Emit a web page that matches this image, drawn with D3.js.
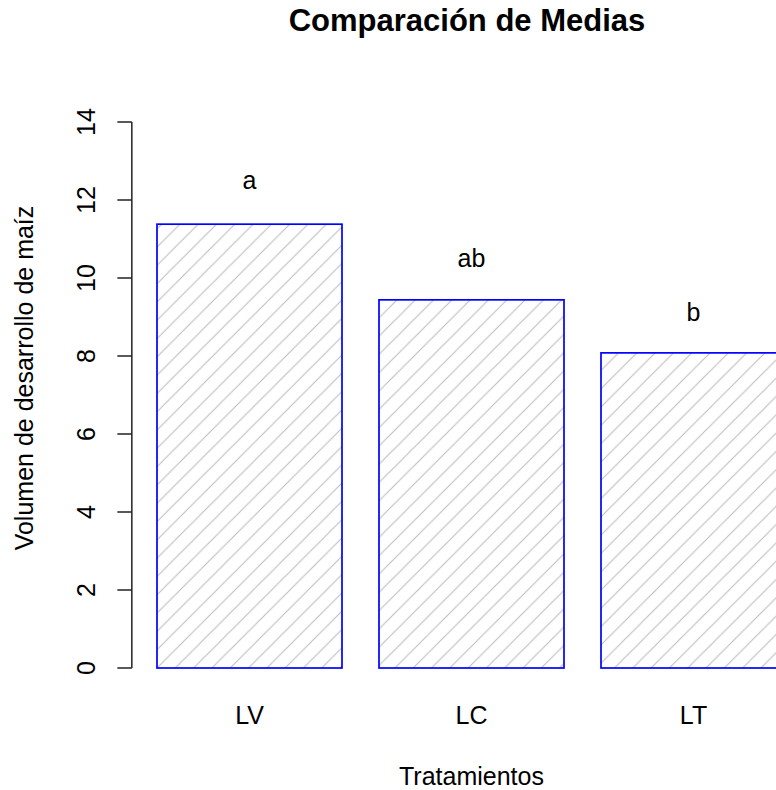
<!DOCTYPE html>
<html>
<head>
<meta charset="utf-8">
<script src="https://cdn.jsdelivr.net/npm/d3@7"></script>
<style>
  html, body { margin: 0; padding: 0; background: #ffffff; }
  svg { display: block; }
  text { font-family: "Liberation Sans", Arial, sans-serif; fill: #000; }
</style>
</head>
<body>
<div id="chart"></div>
<script>
// ---- data ----
const categories = ["LV", "LC", "LT"];
const means = [11.38, 9.44, 8.08];
const groupLetters = ["a", "ab", "b"];
const letterY = [12.28, 10.28, 8.9];
const yTicks = [0, 2, 4, 6, 8, 10, 12, 14];
const titleText = "Comparación de Medias";
const xLabel = "Tratamientos";
const yLabel = "Volumen de desarrollo de maíz";

// ---- layout ----
const W = 776, H = 790;
const svg = d3.select("#chart").append("svg")
  .attr("width", W).attr("height", H);
svg.append("rect").attr("width", W).attr("height", H).attr("fill", "#fff");

// bar-unit scale (R barplot units) -> pixels
const u = d3.scaleLinear().domain([0, 1]).range([120, 305]);
const x = d3.scaleBand().domain(categories)
  .range([u(0.1), u(3.7)])
  .paddingInner(1 / 6).paddingOuter(1 / 12);
const y = d3.scaleLinear().domain([0, 14]).range([668, 122]);
const plotLeft = u(0.064), plotRight = u(3.736);

// hatch pattern
const s = 18.3;
const defs = svg.append("defs");
const pat = defs.append("pattern")
  .attr("id", "hatch").attr("patternUnits", "userSpaceOnUse")
  .attr("width", s).attr("height", s)
  .attr("x", u(0.2)).attr("y", y(0));
pat.append("path")
  .attr("d", `M0,${s} L${s},0 M${-s/2},${s/2} L${s/2},${-s/2} M${s/2},${s*1.5} L${s*1.5},${s/2}`)
  .attr("stroke", "#bdbdbd").attr("stroke-width", 1.1).attr("fill", "none");

// bars
svg.append("g").selectAll("rect").data(categories).join("rect")
  .attr("x", d => x(d))
  .attr("y", (d, i) => y(means[i]))
  .attr("width", x.bandwidth())
  .attr("height", (d, i) => y(0) - y(means[i]))
  .attr("fill", "url(#hatch)")
  .attr("stroke", "#0000ff")
  .attr("stroke-width", 1.7);

// group letters
svg.append("g").selectAll("text").data(categories).join("text")
  .attr("x", d => x(d) + x.bandwidth() / 2)
  .attr("y", (d, i) => y(letterY[i]))
  .attr("text-anchor", "middle")
  .attr("font-size", 25)
  .text((d, i) => groupLetters[i]);

// y axis (R style)
const yAxis = svg.append("g");
yAxis.append("line")
  .attr("x1", plotLeft).attr("x2", plotLeft)
  .attr("y1", y(yTicks[0])).attr("y2", y(yTicks[yTicks.length - 1]))
  .attr("stroke", "#222").attr("stroke-width", 1.5);
yAxis.selectAll("line.tick").data(yTicks).join("line")
  .attr("class", "tick")
  .attr("x1", plotLeft - 14.5).attr("x2", plotLeft)
  .attr("y1", d => y(d)).attr("y2", d => y(d))
  .attr("stroke", "#222").attr("stroke-width", 1.5);
yAxis.selectAll("text").data(yTicks).join("text")
  .attr("transform", d => `translate(95,${y(d)}) rotate(-90)`)
  .attr("text-anchor", "middle")
  .attr("font-size", 25)
  .text(d => d);

// x category labels (no axis line, as in R barplot)
svg.append("g").selectAll("text").data(categories).join("text")
  .attr("x", d => x(d) + x.bandwidth() / 2)
  .attr("y", 724)
  .attr("text-anchor", "middle")
  .attr("font-size", 25)
  .text(d => d);

// axis titles
svg.append("text")
  .attr("x", (plotLeft + plotRight) / 2).attr("y", 785)
  .attr("text-anchor", "middle").attr("font-size", 25)
  .text(xLabel);
svg.append("text")
  .attr("transform", `translate(33,378) rotate(-90)`)
  .attr("text-anchor", "middle").attr("font-size", 25)
  .text(yLabel);

// title
svg.append("text")
  .attr("x", 467).attr("y", 31)
  .attr("text-anchor", "middle").attr("font-size", 31)
  .attr("font-weight", "bold")
  .text(titleText);
</script>
</body>
</html>
